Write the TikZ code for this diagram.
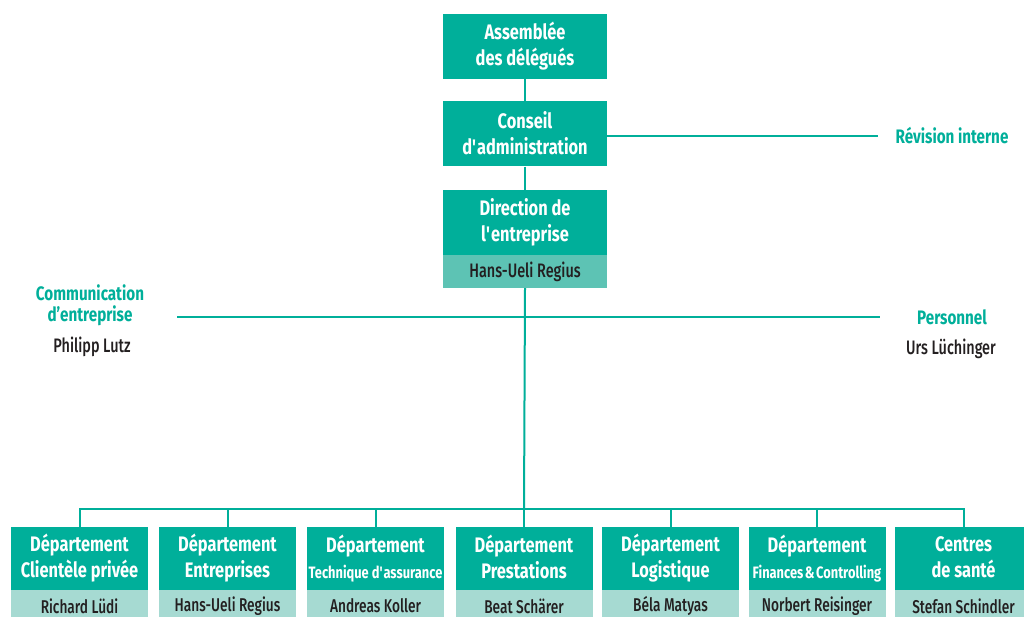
\documentclass[tikz,border=0pt]{standalone}
\usepackage{fontspec}
\setmainfont[FakeStretch=0.78]{Fira Sans}
\newfontfamily\medf[FakeStretch=0.74]{Fira Sans Medium}
\definecolor{tealA}{HTML}{00AF9A}
\definecolor{tealB}{HTML}{5DC3B4}
\definecolor{tealC}{HTML}{A6DAD2}
\definecolor{ink}{HTML}{231F20}
\newcommand\sq{\textquotesingle}
\newcommand\vstrut{\rule[-3pt]{0pt}{26pt}}
\tikzset{
  box/.style={fill=tealA, text=white, minimum width=164pt, minimum height=65pt, inner sep=0pt, align=center,
    font=\bfseries\fontsize{21}{26}\selectfont, execute at begin node=\vstrut, execute at end node=\vstrut},
  namestrip/.style={fill=tealB, text=ink, minimum width=164pt, minimum height=33pt, inner sep=0pt,
    font=\medf\fontsize{19.5}{20}\selectfont},
  dept/.style={fill=tealA, text=white, minimum width=137pt, minimum height=63pt, inner sep=0pt, align=center,
    font=\bfseries\fontsize{21}{26}\selectfont, execute at begin node=\vstrut, execute at end node=\vstrut},
  deptname/.style={fill=tealC, text=ink, minimum width=137pt, minimum height=32pt, inner sep=0pt,
    font=\medf\fontsize{18.5}{20}\selectfont},
  side/.style={text=tealA, align=center, inner sep=0pt, font=\bfseries\fontsize{19.5}{21}\selectfont},
  person/.style={text=ink, inner sep=0pt, font=\medf\fontsize{19.5}{20}\selectfont},
  conn/.style={draw=tealA, line width=2pt},
}
\begin{document}
\begin{tikzpicture}[x=1pt,y=-1pt]
\useasboundingbox (0,0) rectangle (1024,617);
\fill[white] (0,0) rectangle (1024,617);
% top column
\node[box] (asm) at (525,46.5) {Assemblée\\des délégués};
\node[box] (con) at (525,134) {Conseil\\d\sq administration};
\node[box] (dir) at (525,222.5) {Direction de\\l\sq entreprise};
\node[namestrip] (dirn) at (525,271.5) {Hans-Ueli Regius};
% side labels
\node[side] (rev) at (952,136) {Révision interne};
\coordinate (revend) at (878,136);
\node[side] (comm) at (90,305) {Communication\\d’entreprise};
\node[person] (commp) at (92,347) {Philipp Lutz};
\node[side] (pers) at (952,317) {Personnel};
\node[person] (persp) at (951,349) {Urs Lüchinger};
\coordinate (hl) at (177,317);
\coordinate (hr) at (880,317);
\coordinate (bus) at (524,509);
% departments
\node[dept] (d1) at (79.5,558.5) {Département\\Clientèle privée};
\node[deptname] (n1) at (79.5,606) {Richard Lüdi};
\node[dept] (d2) at (227.5,558.5) {Département\\Entreprises};
\node[deptname] (n2) at (227.5,606) {Hans-Ueli Regius};
\node[dept] (d3) at (375.5,558.5) {Département\\{\fontsize{16.5}{26}\selectfont Technique d\sq assurance}};
\node[deptname] (n3) at (375.5,606) {Andreas Koller};
\node[dept] (d4) at (524,558.5) {Département\\Prestations};
\node[deptname] (n4) at (524,606) {Beat Schärer};
\node[dept] (d5) at (670.5,558.5) {Département\\Logistique};
\node[deptname] (n5) at (670.5,606) {Béla Matyas};
\node[dept] (d6) at (817,558.5) {Département\\{\fontsize{16.5}{26}\selectfont Finances\kern1.5pt\&\kern1.5pt Controlling}};
\node[deptname] (n6) at (817,606) {Norbert Reisinger};
\node[dept] (d7) at (963.5,558.5) {Centres\\de santé};
\node[deptname] (n7) at (963.5,606) {Stefan Schindler};
% connectors
\draw[conn] (asm.south) -- (con.north);
\draw[conn] (con.south) -- (dir.north);
\draw[conn] (con.east |- revend) -- (revend);
\draw[conn] (hl) -- (hr);
\draw[conn] (dirn.south) -- (bus);
\draw[conn] (d1.north) |- (bus) -| (d7.north);
\foreach \i in {2,...,6} { \draw[conn] (d\i.north) -- (d\i.north |- bus); }
\end{tikzpicture}
\end{document}
